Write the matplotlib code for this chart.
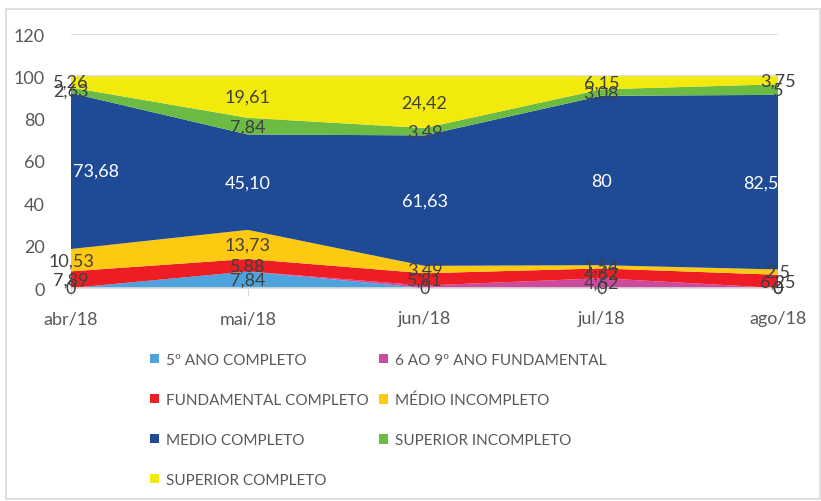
import matplotlib
matplotlib.use("Agg")
import matplotlib.pyplot as plt
from matplotlib.patches import Rectangle, Patch
import numpy as np

plt.rcParams['font.family'] = ['Lato', 'DejaVu Sans']

categories = ["abr/18", "mai/18", "jun/18", "jul/18", "ago/18"]
series_names = ["5º ANO COMPLETO", "6 AO 9º ANO FUNDAMENTAL", "FUNDAMENTAL COMPLETO",
                "MÉDIO INCOMPLETO", "MEDIO COMPLETO", "SUPERIOR INCOMPLETO", "SUPERIOR COMPLETO"]
ano5 = [0, 7.84, 0, 0, 0]
ano6a9 = [0, 0, 1.16, 4.62, 0]
fund_completo = [7.89, 5.88, 5.81, 4.62, 6.25]
medio_incompleto = [10.53, 13.73, 3.49, 1.54, 2.5]
medio_completo = [73.68, 45.10, 61.63, 80, 82.5]
superior_incompleto = [2.63, 7.84, 3.49, 3.08, 5]
superior_completo = [5.26, 19.61, 24.42, 6.15, 3.75]
label_texts = [
    ["0", "7,84", "0", "0", "0"],
    ["", "", "", "4,62", "0"],
    ["7,89", "5,88", "5,81", "4,62", "6,25"],
    ["10,53", "13,73", "3,49", "1,54", "2,5"],
    ["73,68", "45,10", "61,63", "80", "82,5"],
    ["2,63", "7,84", "3,49", "3,08", "5"],
    ["5,26", "19,61", "24,42", "6,15", "3,75"],
]
colors = ["#4FA3DC", "#CC4B9E", "#EE1C25", "#FDCA11", "#1F4A96", "#6BBB44", "#F3EA0D"]

data = np.array([ano5, ano6a9, fund_completo, medio_incompleto, medio_completo,
                 superior_incompleto, superior_completo])
x = np.arange(len(categories))

W, H = 821, 502
fig = plt.figure(figsize=(W / 100, H / 100), dpi=100)
ax = fig.add_axes([71 / W, 1 - 289 / H, (778 - 71) / W, (289 - 35) / H])

ax.stackplot(x, data, colors=colors, linewidth=0, zorder=2)
ax.set_xlim(0, len(categories) - 1)
ax.set_ylim(0, 120)
ax.set_yticks(np.arange(0, 121, 20))
ax.yaxis.grid(True, color="#D9D9D9", linewidth=1.2, zorder=0)
ax.set_axisbelow(True)
for s in ["top", "right", "left"]:
    ax.spines[s].set_visible(False)
ax.spines["bottom"].set_color("#D9D9D9")
ax.spines["bottom"].set_linewidth(1.2)
ax.tick_params(axis="y", length=0, pad=19, labelsize=13, labelcolor="#595959")
ax.tick_params(axis="x", length=6, color="#D9D9D9", pad=10, labelsize=13, labelcolor="#595959")
ax.set_xticks(x)
ax.set_xticklabels(categories)

cum = np.cumsum(data, axis=0)
bottoms = cum - data
n = len(categories)
for i in range(data.shape[0]):
    tc = "white" if i == 4 else "#404040"
    for j in range(n):
        t = label_texts[i][j]
        if not t:
            continue
        yc = bottoms[i, j] + data[i, j] / 2
        ha = "center"
        if i == 4 and j == 0:
            ha = "left"
        elif i == 4 and j == n - 1:
            ha = "right"
        ax.text(x[j] + (0.01 if ha == "left" else 0), yc, t, ha=ha, va="center",
                fontsize=13, color=tc, zorder=5, clip_on=False)

order = [0, 2, 4, 6, 1, 3, 5]
handles = [Patch(facecolor=colors[k], edgecolor="none") for k in order]
labels = [series_names[k] for k in order]
leg = fig.legend(handles, labels, ncol=2, loc="upper left",
                 bbox_to_anchor=(150 / W, 1 - 354 / H), frameon=False,
                 fontsize=11, labelcolor="#595959", handlelength=0.58, handleheight=0.58,
                 handletextpad=0.45, columnspacing=0.7, labelspacing=1.7,
                 borderaxespad=0, borderpad=0)

fig.patches.append(Rectangle((6 / W, 1 - 500 / H), (820 - 6) / W, (500 - 10) / H,
                             transform=fig.transFigure, fill=False,
                             edgecolor="#D9D9D9", linewidth=1.2))

fig.savefig("out.png", dpi=100)
